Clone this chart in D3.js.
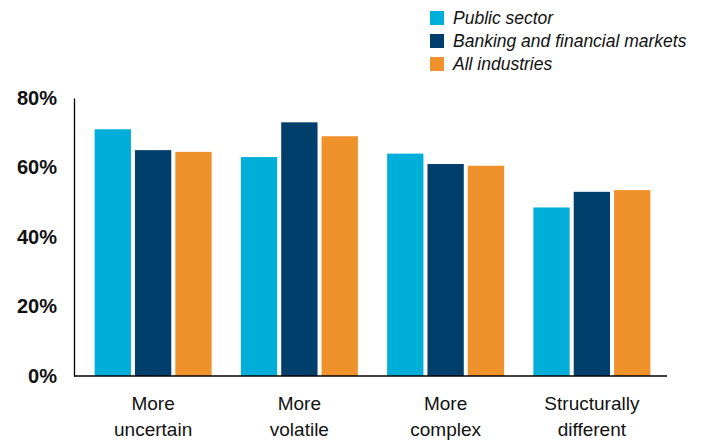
<!DOCTYPE html>
<html>
<head>
<meta charset="utf-8">
<script src="https://cdn.jsdelivr.net/npm/d3@7"></script>
<style>
  body { margin: 0; background: #fff; }
  text { font-family: "Liberation Sans", Arial, sans-serif; fill: #111; }
</style>
</head>
<body>
<div id="chart"></div>
<script>
var width = 706,
    height = 440;

// data
var categories = [["More", "uncertain"], ["More", "volatile"], ["More", "complex"], ["Structurally", "different"]];
var series = ["Public sector", "Banking and financial markets", "All industries"];
var publicSector = [71, 63, 64, 48.5];
var banking = [65, 73, 61, 53];
var allIndustries = [64.5, 69, 60.5, 53.5];
var yTicks = [0, 20, 40, 60, 80];
var colors = ["#00afd9", "#003f6b", "#f0922b"];

var values = [publicSector, banking, allIndustries];

var svg = d3.select("#chart").append("svg")
    .attr("width", width)
    .attr("height", height);

var x0 = d3.scaleBand()
    .domain(d3.range(categories.length))
    .range([80, 665])
    .paddingInner(0.2)
    .paddingOuter(0.1);

var x1 = d3.scaleBand()
    .domain(d3.range(series.length))
    .range([0, x0.bandwidth()])
    .paddingInner(0.1);

var y = d3.scaleLinear()
    .domain([0, 80])
    .range([376, 98]);

// bars
var groups = svg.selectAll("g.group")
    .data(categories)
  .enter().append("g")
    .attr("class", "group")
    .attr("transform", function(d, i) { return "translate(" + x0(i) + ",0)"; });

groups.selectAll("rect")
    .data(function(d, i) { return values.map(function(v, s) { return {s: s, v: v[i]}; }); })
  .enter().append("rect")
    .attr("x", function(d) { return x1(d.s); })
    .attr("width", x1.bandwidth())
    .attr("y", function(d) { return y(d.v); })
    .attr("height", function(d) { return y(0) - y(d.v); })
    .style("fill", function(d) { return colors[d.s]; });

// y axis
var yAxis = svg.append("g")
    .attr("transform", "translate(74,0)")
    .call(d3.axisLeft(y).tickValues(yTicks).tickSize(0).tickPadding(17)
      .tickFormat(function(d) { return d + "%"; }));
yAxis.select(".domain").attr("stroke", "#000").attr("stroke-width", 1.3);
yAxis.selectAll("text")
    .style("font-size", "20px")
    .style("font-weight", "bold")
    .attr("fill", "#111");

// x axis
var xAxis = svg.append("g")
    .attr("transform", "translate(0," + y(0) + ")");
xAxis.append("line")
    .attr("x1", 74).attr("x2", 667)
    .attr("stroke", "#000").attr("stroke-width", 1.5);

xAxis.selectAll("text")
    .data(categories)
  .enter().append("text")
    .attr("x", function(d, i) { return x0(i) + x0.bandwidth() / 2; })
    .attr("text-anchor", "middle")
    .style("font-size", "19px")
    .each(function(d) {
      var t = d3.select(this);
      d.forEach(function(line, k) {
        t.append("tspan")
          .attr("x", t.attr("x"))
          .attr("y", 34 + k * 26)
          .text(line);
      });
    });

// legend
var legend = svg.selectAll("g.legend")
    .data(series)
  .enter().append("g")
    .attr("class", "legend")
    .attr("transform", function(d, i) { return "translate(430," + (11 + i * 23) + ")"; });

legend.append("rect")
    .attr("width", 14)
    .attr("height", 14)
    .style("fill", function(d, i) { return colors[i]; });

legend.append("text")
    .attr("x", 23)
    .attr("y", 13)
    .style("font-size", "17.5px")
    .style("font-style", "italic")
    .text(function(d) { return d; });
</script>
</body>
</html>
